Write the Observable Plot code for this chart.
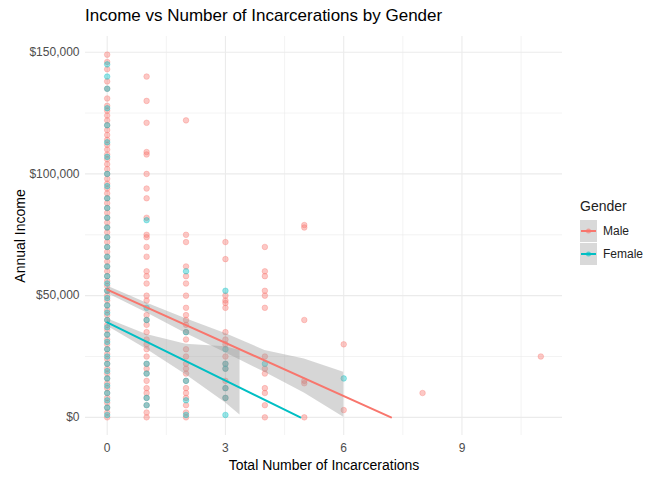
<!DOCTYPE html>
<html><head><meta charset="utf-8">
<script src="https://cdn.jsdelivr.net/npm/d3@7"></script>
<script src="https://cdn.jsdelivr.net/npm/@observablehq/plot@0.6"></script>
<style>
body{margin:0;background:#fff;font-family:"Liberation Sans",Arial,sans-serif}
#wrap{position:relative;width:672px;height:480px}
#title{position:absolute;left:85px;top:6px;font-size:17px;color:#000}
#legend{position:absolute;left:580px;top:198px;font-size:12px;color:#222}
</style></head><body>
<div id="wrap"><div id="title">Income vs Number of Incarcerations by Gender</div><div id="chart"></div>
<div id="legend"></div></div>
<script>
// incomes (in $) per number of incarcerations
const male0 = [149000,146000,143000,138000,135000,131000,128000,126000,124000,122000,120000,118000,116000,114000,112000,110000,108000,106000,104000,102000,100000,98000,96000,94000,92000,90000,88000,86000,84000,82000,80000,78000,76000,74000,72000,70000,68000,66000,64000,62000,60000,58000,56000,54000,52000,50000,48000,46000,44000,42000,40000,38000,36000,34000,32000,30000,28000,26000,24000,22000,20000,18000,16000,14000,12000,10000,8000,6000,4000,2000,0]
const female0 = [145000,140000,135000,127000,120000,113000,107000,100000,95000,90000,86000,82000,78000,74000,70000,66000,62000,58000,55000,52000,49000,46000,43000,40000,37000,34000,31000,28000,25000,22000,19000,16000,13000,10000,7000,4000,1000]
const male1 = [140000,130000,121000,109000,108000,100000,94000,90000,82000,75000,74000,70000,66000,60000,58000,55000,50000,48000,42000,40000,38000,35000,32000,30000,28000,25000,22000,20000,18000,15000,12000,10000,8000,5000,2000,0]
const female1 = [81000,45000,40000,22000,18000,8000,5000]
const male2 = [122000,75000,72000,62000,58000,55000,50000,45000,42000,40000,38000,35000,32000,28000,25000,22000,20000,18000,15000,12000,10000,8000,5000,2000,0]
const female2 = [60000,35000,15000,7000,1000]
const male3 = [72000,65000,50000,48000,47000,45000,35000,32000,30000,25000,22000,20000,15000,12000,8000]
const female3 = [52000,28000,22000,20000,12000,8000,1000]
const male4 = [70000,60000,58000,52000,50000,45000,25000,20000,18000,12000,10000,5000,0]
const female4 = [22000]
const male5 = [79000,78000,40000,15000,14000,0]
const male6 = [30000,3000]
const female6 = [16000]
const male8 = [10000]
const male11 = [25000]

// fitted lines and confidence bands
const maleFitX = [0,7.2], maleFitY = [52500,0]
const femaleFitX = [0,4.9], femaleFitY = [39000,0]
const maleBandX = [0,1,2,3,4,5,6]
const maleBandLo = [51000,43000,34500,26500,18500,10000,0]
const maleBandHi = [54000,47000,40500,34500,27500,24000,18500]
const femaleBandX = [0,1,2,3,3.37]
const femaleBandLo = [37500,28000,17500,6000,1000]
const femaleBandHi = [40500,34000,30000,29000,27500]

const pts = []
const add = (g, x, arr) => arr.forEach(v => pts.push({g, x, v}))
add("Male",0,male0); add("Female",0,female0); add("Male",1,male1); add("Female",1,female1)
add("Male",2,male2); add("Female",2,female2); add("Male",3,male3); add("Female",3,female3)
add("Male",4,male4); add("Female",4,female4); add("Male",5,male5); add("Male",6,male6)
add("Female",6,female6); add("Male",8,male8); add("Male",11,male11)
const band = (xs, lo, hi) => xs.map((x,i) => ({x, lo: lo[i], hi: hi[i]}))
const line = (xs, ys) => xs.map((x,i) => ({x, y: ys[i]}))
const col = {Male:"#F8766D", Female:"#00BFC4"}

const chart = Plot.plot({
  width: 672, height: 480,
  marginTop: 36, marginBottom: 45, marginLeft: 85, marginRight: 110,
  style: {fontFamily: "Liberation Sans, Arial, sans-serif", fontSize: "12px"},
  x: {domain: [-0.55, 11.55]},
  y: {domain: [-7450, 156450]},
  marks: [
    Plot.ruleX([1.5,4.5,7.5,10.5], {stroke:"#ebebeb", strokeWidth:0.6}),
    Plot.ruleY([25000,75000,125000], {stroke:"#ebebeb", strokeWidth:0.6}),
    Plot.ruleX([0,3,6,9], {stroke:"#ebebeb", strokeWidth:1.1}),
    Plot.ruleY([0,50000,100000,150000], {stroke:"#ebebeb", strokeWidth:1.1}),
    Plot.dot(pts, {x:"x", y:"v", r:2.8, fill: d => col[d.g], fillOpacity:0.4, stroke: d => col[d.g], strokeOpacity:0.4, strokeWidth:0.8}),
    Plot.areaY(band(maleBandX, maleBandLo, maleBandHi), {x:"x", y1:"lo", y2:"hi", fill:"#999", fillOpacity:0.4}),
    Plot.areaY(band(femaleBandX, femaleBandLo, femaleBandHi), {x:"x", y1:"lo", y2:"hi", fill:"#999", fillOpacity:0.4}),
    Plot.line(line(maleFitX, maleFitY), {x:"x", y:"y", stroke:col.Male, strokeWidth:2}),
    Plot.line(line(femaleFitX, femaleFitY), {x:"x", y:"y", stroke:col.Female, strokeWidth:2}),
    Plot.axisX({ticks:[0,3,6,9], tickSize:0, tickPadding:8, fill:"#4d4d4d", label:"Total Number of Incarcerations", labelAnchor:"center", labelArrow:"none", labelOffset:34}),
    Plot.axisY({ticks:[0,50000,100000,150000], tickSize:0, tickPadding:6, fill:"#4d4d4d", tickFormat: d3.format("$,"), label:"Annual Income", labelAnchor:"center", labelArrow:"none", labelOffset:70})
  ]
})
d3.select(chart).selectAll("g[aria-label$='axis label'] text").attr("fill","#000").style("font-size","14px")
d3.select("#chart").append(() => chart)

const lg = d3.select("#legend")
lg.append("div").text("Gender").style("font-size","14px").style("margin-bottom","6px")
for (const g of ["Male","Female"]) {
  const row = lg.append("div").style("display","flex").style("align-items","center").style("margin-bottom","1px")
  const s = row.append("svg").attr("width",17).attr("height",22)
  s.append("rect").attr("width",17).attr("height",22).attr("fill","#d9d9d9")
  s.append("line").attr("x1",1).attr("x2",16).attr("y1",11).attr("y2",11).attr("stroke",col[g]).attr("stroke-width",2)
  s.append("circle").attr("cx",8.5).attr("cy",11).attr("r",2.5).attr("fill",col[g]).attr("fill-opacity",0.6)
  row.append("span").text(g).style("margin-left","6px")
}
</script></body></html>
